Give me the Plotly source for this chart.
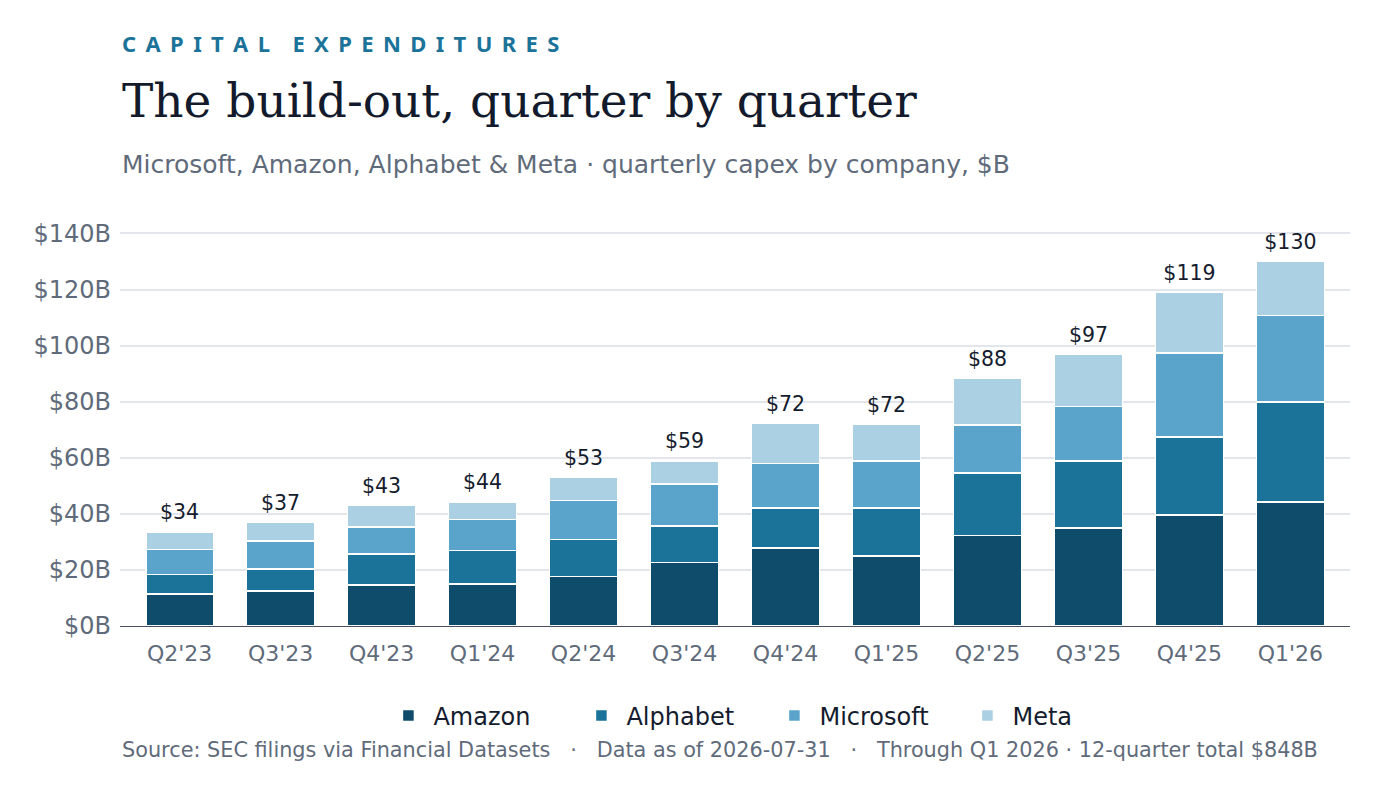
import plotly.graph_objects as go

quarters = ["Q2'23", "Q3'23", "Q4'23", "Q1'24", "Q2'24", "Q3'24",
            "Q4'24", "Q1'25", "Q2'25", "Q3'25", "Q4'25", "Q1'26"]
amazon = [11.4, 12.5, 14.6, 14.9, 17.6, 22.6, 27.8, 24.9, 32.2, 34.9, 39.5, 44.2]
alphabet = [6.9, 7.8, 11.0, 12.0, 13.2, 13.1, 14.3, 17.2, 22.4, 23.9, 27.9, 35.6]
microsoft = [8.9, 10.0, 9.7, 11.0, 13.9, 14.9, 15.8, 16.7, 17.1, 19.4, 29.9, 31.0]
meta = [6.4, 6.6, 7.6, 6.4, 8.2, 8.3, 14.4, 13.0, 16.5, 18.8, 21.6, 19.3]

series = [("Amazon", amazon, "#0f4c6b"),
          ("Alphabet", alphabet, "#1b7399"),
          ("Microsoft", microsoft, "#5aa4cb"),
          ("Meta", meta, "#abd0e3")]

totals = [a + b + c + d for a, b, c, d in zip(amazon, alphabet, microsoft, meta)]

FONT = "DejaVu Sans"
GRAY = "#5f6b7a"
INK = "#141c2e"

fig = go.Figure()
for name, vals, col in series:
    fig.add_trace(go.Bar(x=quarters, y=vals, name=name, marker=dict(color=col, line=dict(color="white", width=1.5)),
                         hovertemplate="%{x}: $%{y:.1f}B<extra>" + name + "</extra>"))
# invisible markers push the total labels up a little
fig.add_trace(go.Scatter(x=quarters, y=totals, mode="markers+text", text=[f"${round(t)}" for t in totals],
                         marker=dict(size=10, opacity=0), textposition="top center",
                         textfont=dict(family=FONT, size=20.5, color=INK),
                         showlegend=False, hoverinfo="skip", cliponaxis=False))

# page is offset 8px by the body margin; plot spans screen y 225..626
def py(px):
    return (626 - px) / 401

sp = "\u00a0\u2009"
kicker = sp.join("CAPITAL") + sp * 2 + "\u2009" + sp.join("EXPENDITURES")

ann = [
    dict(text=kicker, y=py(43), font=dict(family="Noto Sans", size=22, color="#1b7399", weight="bold")),
    dict(text="The build-out, quarter by quarter", y=py(101),
         font=dict(family="DejaVu Serif", size=47, color="#121a2c")),
    dict(text="Microsoft, Amazon, Alphabet &amp; Meta · quarterly capex by company, $B", y=py(164),
         font=dict(family=FONT, size=25, color=GRAY)),
    dict(text="Source: SEC filings via Financial Datasets \u00a0 · \u00a0 Data as of 2026-07-31 \u00a0 · \u00a0 Through Q1 2026 · 12-quarter total $848B",
         y=py(750), font=dict(family=FONT, size=20.8, color=GRAY)),
]
for a in ann:
    fig.add_annotation(xref="paper", yref="paper", x=0, xanchor="left", yanchor="middle",
                       showarrow=False, **a)

fig.update_layout(
    barmode="stack", bargap=0.33, template="plotly_white",
    width=1400, height=788, paper_bgcolor="white", plot_bgcolor="white",
    margin=dict(l=112, r=58, t=217, b=170),
    font=dict(family=FONT, color=GRAY),
    legend=dict(orientation="h", x=0.528, xanchor="center", y=py(716), yanchor="middle",
                font=dict(family=FONT, size=24, color=INK), traceorder="normal",
                itemwidth=40, entrywidth=138),
    xaxis=dict(showgrid=False, showline=True, linecolor="#4a5060", linewidth=1, range=[-0.59, 11.59],
               tickfont=dict(size=22, color=GRAY), ticks="", ticklabelstandoff=8),
    yaxis=dict(range=[0, 143], dtick=20, tickprefix="$", ticksuffix="B", gridcolor="#e2e6ec",
               gridwidth=1.5, zeroline=False, tickfont=dict(size=24, color=GRAY), ticklen=0,
               ticklabelstandoff=8),
)

fig.write_html("out.html")
